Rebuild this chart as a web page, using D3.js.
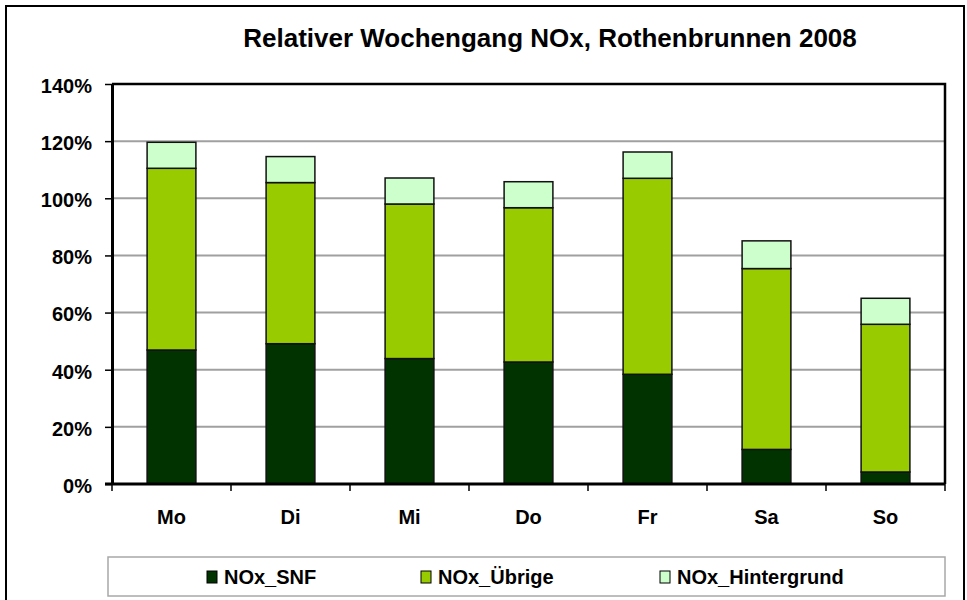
<!DOCTYPE html>
<html>
<head>
<meta charset="utf-8">
<script src="https://cdn.jsdelivr.net/npm/d3@7"></script>
<style>
  html, body { margin: 0; padding: 0; background: #fff; }
  svg { display: block; font-family: "Liberation Sans", Arial, sans-serif; }
</style>
</head>
<body>
<svg id="chart" width="967" height="600"></svg>
<script>
// Weekday categories and stacked NOx shares (percent)
const days = ["Mo", "Di", "Mi", "Do", "Fr", "Sa", "So"];
const snf = [46.9, 49.1, 43.9, 42.7, 38.4, 12.1, 4.2];
const uebrige = [63.6, 56.4, 54.1, 54.0, 68.6, 63.3, 51.7];
const hintergrund = [9.1, 9.1, 9.1, 9.1, 9.2, 9.7, 9.1];
const seriesNames = ["NOx_SNF", "NOx_Übrige", "NOx_Hintergrund"];
const seriesColors = ["#003300", "#99cc00", "#ccffcc"];
const yTicks = [0, 20, 40, 60, 80, 100, 120, 140];

const rows = days.map((d, i) => ({
  day: d,
  "NOx_SNF": snf[i],
  "NOx_Übrige": uebrige[i],
  "NOx_Hintergrund": hintergrund[i]
}));

const svg = d3.select("#chart");
const W = 967, H = 600;
const plot = { left: 112, right: 945, top: 84, bottom: 484 };

// Outer chart frame
svg.append("rect")
  .attr("x", 6).attr("y", 6).attr("width", W - 9).attr("height", H + 10)
  .attr("fill", "#fff").attr("stroke", "#000").attr("stroke-width", 2);

// Title
svg.append("text")
  .attr("x", 550).attr("y", 47)
  .attr("text-anchor", "middle")
  .attr("font-size", 26).attr("font-weight", "bold")
  .text("Relativer Wochengang NOx, Rothenbrunnen 2008");

const x = d3.scaleBand().domain(days).range([plot.left, plot.right]).paddingInner(0.59).paddingOuter(0.295);
const xBand = d3.scaleBand().domain(days).range([plot.left, plot.right]);
const y = d3.scaleLinear().domain([0, 140]).range([plot.bottom, plot.top]);

// Gridlines
svg.append("g")
  .selectAll("line")
  .data(yTicks.filter(t => t > 0 && t < 140))
  .join("line")
  .attr("x1", plot.left).attr("x2", plot.right)
  .attr("y1", d => y(d)).attr("y2", d => y(d))
  .attr("stroke", "#a0a0a0").attr("stroke-width", 2);

// Stacked bars
const stack = d3.stack().keys(seriesNames);
const layers = stack(rows);
svg.append("g")
  .selectAll("g")
  .data(layers)
  .join("g")
  .attr("fill", (d, i) => seriesColors[i])
  .selectAll("rect")
  .data(d => d)
  .join("rect")
  .attr("x", d => x(d.data.day))
  .attr("width", x.bandwidth())
  .attr("y", d => y(d[1]))
  .attr("height", d => y(d[0]) - y(d[1]))
  .attr("stroke", "#111").attr("stroke-width", 1.5);

// Plot frame (top and right)
svg.append("path")
  .attr("d", `M${plot.left},${plot.top}H${plot.right}V${plot.bottom}`)
  .attr("fill", "none").attr("stroke", "#000").attr("stroke-width", 2.5);

// Y axis
const yAxis = d3.axisLeft(y).tickValues(yTicks).tickFormat(d => d + "%").tickSize(7).tickSizeOuter(0);
const gy = svg.append("g").attr("transform", `translate(${plot.left},0)`).call(yAxis);
gy.select(".domain").attr("stroke", "#000").attr("stroke-width", 3);
gy.selectAll(".tick line").attr("stroke", "#000").attr("stroke-width", 1.5);
gy.selectAll(".tick text")
  .attr("x", -20).attr("dy", "0.42em")
  .attr("font-size", 20).attr("font-weight", "bold").attr("fill", "#000")
  .attr("font-family", "Liberation Sans, Arial, sans-serif");

// X axis: ticks at band boundaries, labels at band centers
const gx = svg.append("g");
gx.append("line")
  .attr("x1", plot.left - 7).attr("x2", plot.right)
  .attr("y1", plot.bottom).attr("y2", plot.bottom)
  .attr("stroke", "#000").attr("stroke-width", 3);
const bounds = days.map(d => xBand(d)).concat([plot.right]);
gx.selectAll("line.tk")
  .data(bounds)
  .join("line").attr("class", "tk")
  .attr("x1", d => d).attr("x2", d => d)
  .attr("y1", plot.bottom).attr("y2", plot.bottom + 7)
  .attr("stroke", "#000").attr("stroke-width", 1.5);
gx.selectAll("text")
  .data(days)
  .join("text")
  .attr("x", d => xBand(d) + xBand.bandwidth() / 2)
  .attr("y", 524)
  .attr("text-anchor", "middle")
  .attr("font-size", 20).attr("font-weight", "bold")
  .text(d => d);

// Legend
const legend = svg.append("g");
legend.append("rect")
  .attr("x", 108).attr("y", 557).attr("width", 837).attr("height", 39)
  .attr("fill", "#fff").attr("stroke", "#a8a8a8").attr("stroke-width", 1.5);
const legendX = [207, 421, 660];
const items = legend.selectAll("g.item")
  .data(seriesNames)
  .join("g").attr("class", "item")
  .attr("transform", (d, i) => `translate(${legendX[i]},577)`);
items.append("rect")
  .attr("x", 0).attr("y", -6).attr("width", 10).attr("height", 12)
  .attr("fill", (d, i) => seriesColors[i])
  .attr("stroke", "#000").attr("stroke-width", 1);
items.append("text")
  .attr("x", 17).attr("y", 0).attr("dy", "0.36em")
  .attr("font-size", 20).attr("font-weight", "bold")
  .text(d => d);
</script>
</body>
</html>
